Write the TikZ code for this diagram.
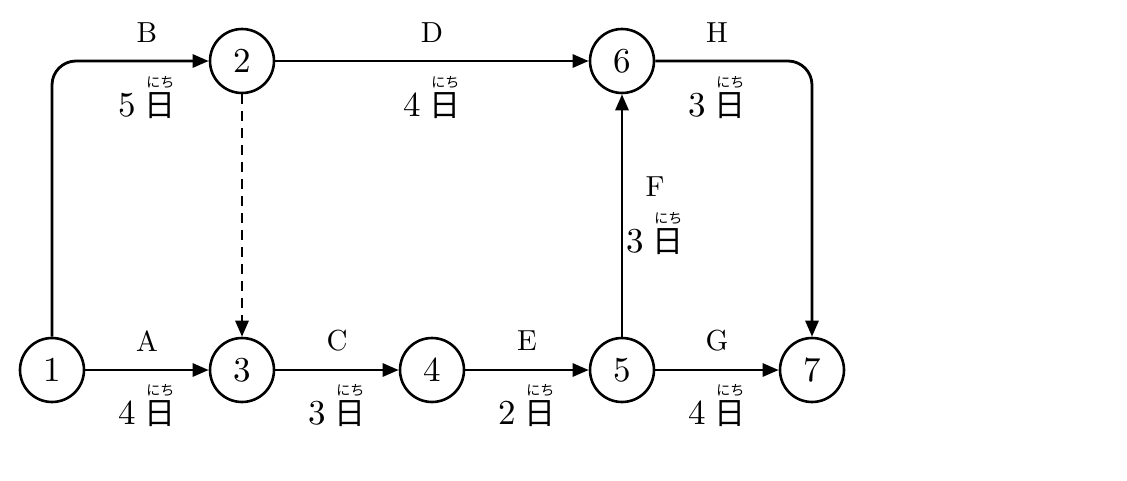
\documentclass[tikz,border=0pt]{standalone}
\usepackage{fontspec}
\setmainfont{lmroman10-regular.otf}
\newfontfamily\jpfont{Noto Sans CJK JP}
\usetikzlibrary{arrows.meta}
\newcommand\nichibox{\setbox0\hbox{\jpfont\fontsize{31}{31}\selectfont 日}%
  \rlap{\makebox[\wd0]{\raisebox{29pt}[0pt][0pt]{\jpfont\fontsize{14}{14}\selectfont にち}}}\box0}
\newcommand\dur[1]{\fontsize{35}{35}\selectfont #1\hspace{9pt}\nichibox}
\tikzset{
  ev/.style={circle,draw,line width=2.6pt,minimum size=64pt,inner sep=0pt,font=\fontsize{35}{35}\selectfont},
  act/.style={line width=2.8pt,-{Triangle[length=16pt,width=13pt]}},
  lbl/.style={font=\fontsize{29}{29}\selectfont,inner sep=0pt},
  durl/.style={inner sep=0pt}
}
\begin{document}
\begin{tikzpicture}[x=1pt,y=-1pt]
\useasboundingbox (0,0) rectangle (1127,480);
\fill[white] (0,0) rectangle (1127,480);
\node[ev] (n1) at (52,370) {1};
\node[ev] (n2) at (242,61) {2};
\node[ev] (n3) at (242,370) {3};
\node[ev] (n4) at (432,370) {4};
\node[ev] (n5) at (622,370) {5};
\node[ev] (n6) at (622,61) {6};
\node[ev] (n7) at (812,370) {7};
\draw[act,rounded corners=24pt] (n1.north) |- (n2.west);
\draw[act] (n2.east) -- (n6.west);
\draw[act,rounded corners=24pt] (n6.east) -| (n7.north);
\draw[act,dash pattern=on 10pt off 7pt] (n2.south) -- (n3.north);
\draw[act] (n1.east) -- (n3.west);
\draw[act] (n3.east) -- (n4.west);
\draw[act] (n4.east) -- (n5.west);
\draw[act] (n5.east) -- (n7.west);
\draw[act] (n5.north) -- (n6.south);
\node[lbl] (lB) at (147,33) {B};
\node[lbl] (lD) at (432,33) {D};
\node[lbl] (lH) at (717,33) {H};
\node[lbl] (lA) at (147,341) {A};
\node[lbl] (lC) at (337,341) {C};
\node[lbl] (lE) at (527,341) {E};
\node[lbl] (lG) at (717,341) {G};
\node[lbl] (lF) at (655,187) {F};
\node[durl] (dB) at (147,106) {\dur{5}};
\node[durl] (dD) at (432,106) {\dur{4}};
\node[durl] (dH) at (717,106) {\dur{3}};
\node[durl] (dA) at (147,414) {\dur{4}};
\node[durl] (dC) at (337,414) {\dur{3}};
\node[durl] (dE) at (527,414) {\dur{2}};
\node[durl] (dG) at (717,414) {\dur{4}};
\node[durl] (dF) at (655,242) {\dur{3}};
\end{tikzpicture}
\end{document}
